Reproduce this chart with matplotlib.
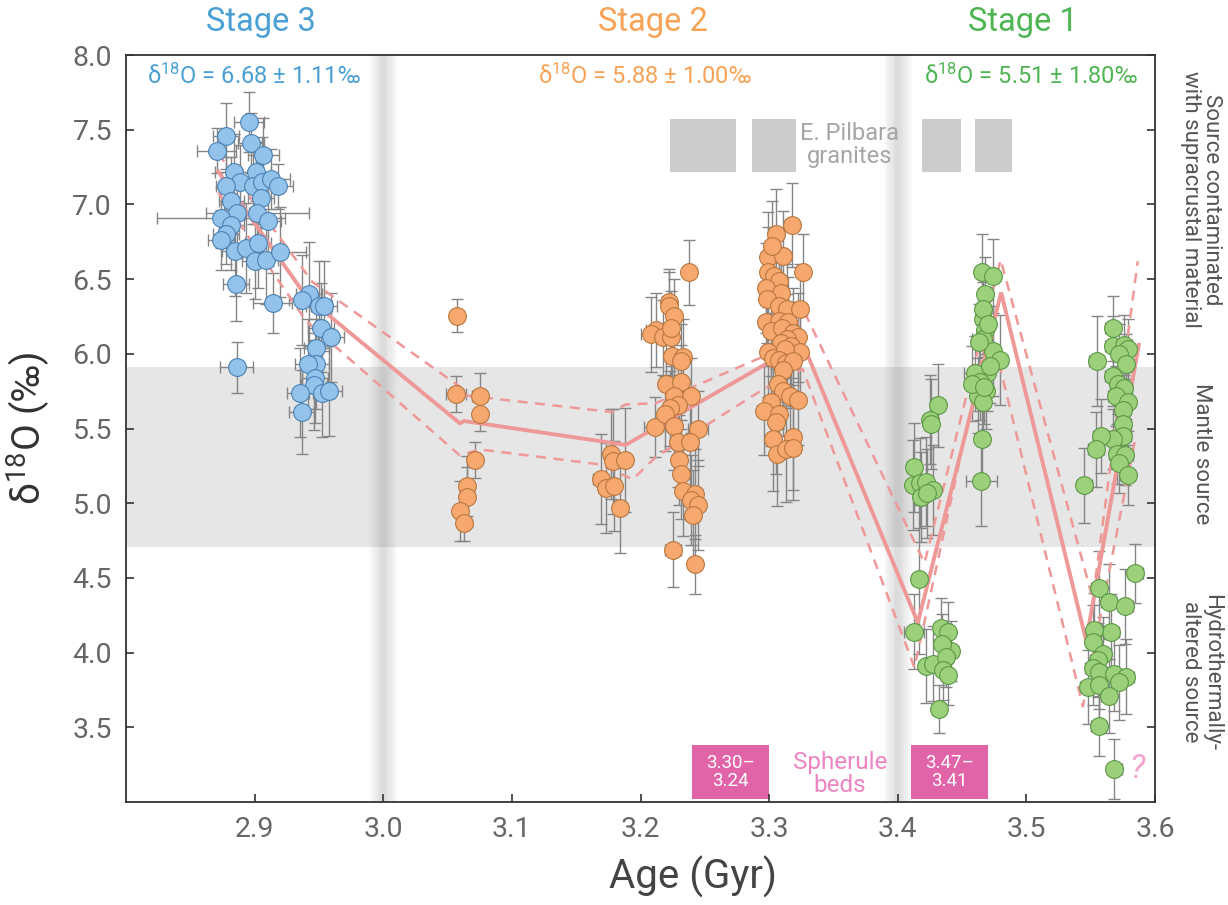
import matplotlib
matplotlib.use('Agg')
import matplotlib.pyplot as plt
from matplotlib.patches import Rectangle
from matplotlib.transforms import blended_transform_factory

plt.rcParams['font.family'] = ['Roboto', 'DejaVu Sans']
plt.rcParams['mathtext.fontset'] = 'custom'
plt.rcParams['mathtext.rm'] = 'Roboto'
plt.rcParams['mathtext.it'] = 'Roboto:italic'

# ---------------- data ----------------
blue_x = [2.8956, 2.878, 2.8705, 2.897, 2.9067, 2.884, 2.901, 2.889, 2.878, 2.899,
          2.9054, 2.9124, 2.918, 2.882, 2.9047, 2.886, 2.874, 2.902, 2.882, 2.9106,
          2.8777, 2.874, 2.8847, 2.893, 2.9028, 2.900, 2.9085, 2.9197, 2.8855, 2.914,
          2.9425, 2.9365, 2.950, 2.9538, 2.9518, 2.9595, 2.948, 2.9476, 2.9417, 2.886,
          2.9468, 2.9463, 2.935, 2.952, 2.9577, 2.9365]
blue_y = [7.55, 7.46, 7.36, 7.41, 7.33, 7.22, 7.22, 7.15, 7.12, 7.12,
          7.15, 7.17, 7.12, 7.02, 7.04, 6.94, 6.91, 6.94, 6.86, 6.89,
          6.80, 6.76, 6.69, 6.71, 6.74, 6.62, 6.63, 6.68, 6.47, 6.34,
          6.40, 6.36, 6.32, 6.32, 6.175, 6.11, 6.04, 5.93, 5.93, 5.91,
          5.84, 5.79, 5.74, 5.74, 5.75, 5.61]
blue_xerr = [0.012, 0.010, 0.015, 0.010, 0.012, 0.015, 0.012, 0.015, 0.008, 0.010,
             0.010, 0.015, 0.012, 0.010, 0.010, 0.010, 0.050, 0.040, 0.010, 0.010,
             0.010, 0.010, 0.010, 0.010, 0.010, 0.010, 0.010, 0.020, 0.010, 0.015,
             0.010, 0.010, 0.010, 0.010, 0.010, 0.010, 0.010, 0.010, 0.010, 0.013,
             0.010, 0.010, 0.010, 0.010, 0.010, 0.010]
blue_yerr = [0.20, 0.22, 0.15, 0.20, 0.25, 0.25, 0.20, 0.25, 0.20, 0.25,
             0.30, 0.20, 0.15, 0.30, 0.25, 0.30, 0.20, 0.25, 0.30, 0.30,
             0.20, 0.20, 0.30, 0.30, 0.30, 0.25, 0.30, 0.30, 0.25, 0.20,
             0.35, 0.30, 0.30, 0.30, 0.30, 0.30, 0.30, 0.30, 0.30, 0.17,
             0.30, 0.30, 0.30, 0.30, 0.30, 0.28]

orange_x = [3.0577, 3.0564, 3.075, 3.075, 3.0712, 3.0655, 3.0655, 3.060, 3.063,
            3.1768, 3.1786, 3.1883, 3.169, 3.173, 3.1794, 3.1844,
            3.211, 3.2253, 3.2374, 3.222, 3.222, 3.2258, 3.2124, 3.2085, 3.2175, 3.224,
            3.224, 3.2243, 3.233, 3.2313, 3.220, 3.2313, 3.2258, 3.239, 3.229, 3.223,
            3.2194, 3.2258, 3.2447, 3.229, 3.2388, 3.2297, 3.2318, 3.233, 3.2426, 3.2395,
            3.2447, 3.2407, 3.2426,
            3.2994, 3.3107, 3.3263, 3.2991, 3.3035, 3.308, 3.2978, 3.3089, 3.2983, 3.308,
            3.3138, 3.3242, 3.2973, 3.308, 3.3146, 3.3012, 3.3102, 3.3185, 3.3224, 3.3138,
            3.3095, 3.3173, 3.3242, 3.2991, 3.3031, 3.3121, 3.3076, 3.3133, 3.3185, 3.3107,
            3.3068, 3.3107, 3.3159, 3.3224, 3.3012, 3.2957, 3.308, 3.3054, 3.3031, 3.3185,
            3.3063, 3.3128, 3.3185, 3.3175, 3.3051, 3.302]
orange_y = [6.255, 5.73, 5.72, 5.60, 5.29, 5.115, 5.04, 4.95, 4.865,
            5.33, 5.28, 5.29, 5.16, 5.10, 5.115, 4.966,
            5.51, 4.69, 6.545, 6.35, 6.32, 6.25, 6.16, 6.13, 6.11, 6.11,
            6.17, 5.985, 5.98, 5.95, 5.80, 5.81, 5.72, 5.72, 5.66, 5.635,
            5.60, 5.52, 5.50, 5.41, 5.41, 5.29, 5.195, 5.08, 5.06, 5.02,
            4.99, 4.92, 4.59,
            6.646, 6.655, 6.55, 6.55, 6.52, 6.49, 6.44, 6.41, 6.37, 6.32,
            6.30, 6.30, 6.215, 6.22, 6.215, 6.15, 6.17, 6.14, 6.11, 6.10,
            6.07, 6.05, 6.01, 6.01, 5.975, 6.03, 5.96, 5.94, 5.95, 5.89,
            5.80, 5.75, 5.72, 5.69, 5.68, 5.62, 5.60, 5.545, 5.43, 5.44,
            5.33, 5.36, 5.37, 6.86, 6.80, 6.72]
orange_xerr = [0.004, 0.008, 0.006, 0.004, 0.004, 0.004, 0.004, 0.004, 0.004,
               0.004, 0.004, 0.004, 0.006, 0.004, 0.004, 0.004,
               0.008, 0.006, 0.004, 0.005, 0.005, 0.005, 0.008, 0.008, 0.005, 0.005,
               0.005, 0.005, 0.005, 0.005, 0.005, 0.005, 0.005, 0.005, 0.005, 0.005,
               0.005, 0.005, 0.008, 0.005, 0.005, 0.005, 0.005, 0.005, 0.005, 0.005,
               0.005, 0.005, 0.004,
               0.005, 0.005, 0.005, 0.005, 0.005, 0.005, 0.005, 0.005, 0.005, 0.005,
               0.005, 0.005, 0.005, 0.005, 0.005, 0.005, 0.005, 0.005, 0.005, 0.005,
               0.005, 0.005, 0.005, 0.005, 0.005, 0.005, 0.005, 0.005, 0.005, 0.005,
               0.005, 0.005, 0.005, 0.005, 0.005, 0.005, 0.005, 0.005, 0.005, 0.005,
               0.005, 0.005, 0.005, 0.005, 0.005, 0.005]
orange_yerr = [0.11, 0.12, 0.15, 0.12, 0.12, 0.20, 0.20, 0.20, 0.12,
               0.30, 0.35, 0.35, 0.30, 0.30, 0.30, 0.30,
               0.20, 0.25, 0.22, 0.20, 0.25, 0.25, 0.25, 0.25, 0.25, 0.25,
               0.25, 0.25, 0.25, 0.25, 0.30, 0.25, 0.25, 0.25, 0.30, 0.25,
               0.25, 0.30, 0.25, 0.30, 0.30, 0.30, 0.30, 0.30, 0.30, 0.30,
               0.30, 0.30, 0.20,
               0.30, 0.30, 0.25, 0.30, 0.30, 0.30, 0.30, 0.30, 0.30, 0.30,
               0.30, 0.30, 0.30, 0.30, 0.30, 0.30, 0.30, 0.30, 0.30, 0.30,
               0.30, 0.30, 0.30, 0.30, 0.30, 0.30, 0.30, 0.30, 0.30, 0.30,
               0.30, 0.30, 0.30, 0.30, 0.30, 0.30, 0.30, 0.35, 0.35, 0.35,
               0.35, 0.35, 0.35, 0.28, 0.30, 0.30]

green_x = [3.4312, 3.4247, 3.426, 3.4125, 3.4117, 3.417, 3.422, 3.4273, 3.4183, 3.423,
           3.4164, 3.4125, 3.422, 3.4273, 3.4333, 3.439, 3.4416, 3.4346, 3.4377, 3.435,
           3.439, 3.432,
           3.4656, 3.4739, 3.4675, 3.4661, 3.4682, 3.4661, 3.4739, 3.4796, 3.4692, 3.4597,
           3.4636, 3.4688, 3.4622, 3.4661, 3.4657, 3.4649, 3.466, 3.470, 3.463, 3.472,
           3.458, 3.467,
           3.5671, 3.5547, 3.5671, 3.5762, 3.5788, 3.5723, 3.5775, 3.5671, 3.571, 3.5762,
           3.5698, 3.5788, 3.5749, 3.5754, 3.5754, 3.5671, 3.5581, 3.5542, 3.5702, 3.5770,
           3.5718, 3.5788, 3.5451,
           3.5848, 3.5561, 3.564, 3.5770, 3.5659, 3.5529, 3.5521, 3.5599, 3.5555, 3.5516,
           3.5568, 3.5684, 3.5775, 3.5718, 3.5477, 3.5562, 3.564, 3.5561, 3.5684]
green_y = [5.655, 5.56, 5.53, 5.24, 5.12, 5.135, 5.145, 5.09, 5.04, 5.065,
           4.49, 4.14, 3.91, 3.925, 4.166, 4.14, 4.01, 4.06, 3.97, 3.886,
           3.85, 3.62,
           6.55, 6.52, 6.40, 6.23, 6.16, 6.10, 6.02, 5.96, 5.87, 5.87,
           5.81, 5.75, 5.72, 5.68, 5.43, 5.15, 6.30, 6.20, 6.08, 5.92,
           5.80, 5.78,
           6.17, 5.95, 6.05, 6.06, 6.03, 6.00, 5.93, 5.85, 5.80, 5.77,
           5.72, 5.68, 5.625, 5.53, 5.45, 5.43, 5.45, 5.36, 5.33, 5.32,
           5.27, 5.19, 5.12,
           4.53, 4.43, 4.34, 4.31, 4.14, 4.15, 4.07, 3.99, 3.95, 3.90,
           3.87, 3.86, 3.84, 3.80, 3.77, 3.78, 3.71, 3.51, 3.22]
green_xerr = [0.005, 0.005, 0.005, 0.005, 0.005, 0.005, 0.005, 0.005, 0.005, 0.005,
              0.005, 0.008, 0.005, 0.005, 0.005, 0.005, 0.005, 0.005, 0.005, 0.005,
              0.005, 0.005,
              0.005, 0.005, 0.005, 0.005, 0.005, 0.008, 0.005, 0.005, 0.005, 0.008,
              0.005, 0.005, 0.005, 0.005, 0.005, 0.012, 0.005, 0.005, 0.005, 0.005,
              0.005, 0.005,
              0.006, 0.006, 0.006, 0.006, 0.006, 0.006, 0.006, 0.006, 0.006, 0.006,
              0.006, 0.006, 0.006, 0.006, 0.006, 0.006, 0.006, 0.006, 0.006, 0.006,
              0.006, 0.006, 0.006,
              0.006, 0.006, 0.006, 0.006, 0.006, 0.006, 0.006, 0.006, 0.006, 0.006,
              0.006, 0.006, 0.006, 0.006, 0.006, 0.006, 0.006, 0.006, 0.006]
green_yerr = [0.28, 0.30, 0.30, 0.30, 0.30, 0.30, 0.30, 0.30, 0.30, 0.30,
              0.50, 0.25, 0.25, 0.25, 0.20, 0.20, 0.20, 0.20, 0.20, 0.20,
              0.20, 0.16,
              0.25, 0.25, 0.25, 0.25, 0.25, 0.25, 0.30, 0.30, 0.25, 0.25,
              0.25, 0.25, 0.25, 0.25, 0.25, 0.30, 0.25, 0.25, 0.25, 0.25,
              0.25, 0.25,
              0.22, 0.30, 0.20, 0.20, 0.20, 0.20, 0.20, 0.20, 0.20, 0.20,
              0.20, 0.20, 0.20, 0.20, 0.20, 0.20, 0.25, 0.25, 0.20, 0.20,
              0.20, 0.20, 0.25,
              0.20, 0.25, 0.25, 0.25, 0.25, 0.25, 0.25, 0.25, 0.25, 0.25,
              0.25, 0.25, 0.25, 0.25, 0.25, 0.25, 0.25, 0.20, 0.20]

trend_x = [2.8717, 2.9404, 3.0595, 3.063, 3.1885, 3.2991, 3.3286, 3.4156, 3.4804, 3.5465, 3.5874]
trend_y = [7.22, 6.38, 5.535, 5.55, 5.39, 5.94, 6.02, 4.20, 6.41, 4.08, 6.06]
upper_x = [2.8717, 2.945, 3.0595, 3.065, 3.178, 3.188, 3.212, 3.295, 3.3286, 3.4208, 3.4800, 3.5516, 3.5866]
upper_y = [7.34, 6.48, 5.78, 5.72, 5.61, 5.66, 5.67, 5.98, 6.26, 4.60, 6.63, 4.36, 6.62]
lower_x = [2.8717, 2.94, 3.0595, 3.075, 3.168, 3.194, 3.212, 3.295, 3.326, 3.413, 3.4713, 3.5439, 3.585]
lower_y = [7.08, 6.22, 5.32, 5.36, 5.26, 5.16, 5.31, 5.76, 5.90, 3.90, 6.20, 3.64, 5.45]

mantle_band = (4.71, 5.91)
boundaries = [3.0, 3.4]
granite_ranges = [(3.223, 3.274), (3.287, 3.321), (3.419, 3.449), (3.460, 3.489)]
granite_y = (7.22, 7.57)
spherule_ranges = [(3.24, 3.30), (3.41, 3.47)]
spherule_labels = ['3.30–\n3.24', '3.47–\n3.41']
spherule_y = (3.02, 3.38)

stage_names = ['Stage 3', 'Stage 2', 'Stage 1']
stage_x = [2.905, 3.21, 3.497]
stage_means = ['6.68 ± 1.11‰', '5.88 ± 1.00‰', '5.51 ± 1.80‰']
mean_x = [2.8993, 3.2035, 3.5035]
stage_colors = ['#4aa0d5', '#f7a255', '#4fb553']

# ---------------- figure ----------------
fig = plt.figure(figsize=(12.28, 9.05), dpi=100)
ax = fig.add_axes([126/1228, 1 - 802/905, (1155 - 126)/1228, (802 - 55)/905])
ax.set_xlim(2.8, 3.6)
ax.set_ylim(3.0, 8.0)

ax.axhspan(*mantle_band, color='#e6e6e6', lw=0, zorder=0)
for b in boundaries:
    for w in [0.022, 0.019, 0.016, 0.013, 0.010, 0.008, 0.006, 0.004]:
        ax.axvspan(b - w/2, b + w/2, color='#808080', alpha=0.035, lw=0, zorder=0.5)

for (x0, x1) in granite_ranges:
    ax.add_patch(Rectangle((x0, granite_y[0]), x1 - x0, granite_y[1] - granite_y[0],
                           facecolor='#cccccc', edgecolor='none', zorder=1))
ax.text(3.3625, 7.395, 'E. Pilbara\ngranites', ha='center', va='center', fontsize=17,
        color='#a6a6a6', linespacing=1.0, zorder=2)

for (x0, x1), lab in zip(spherule_ranges, spherule_labels):
    ax.add_patch(Rectangle((x0, spherule_y[0]), x1 - x0, spherule_y[1] - spherule_y[0],
                           facecolor='#e264a8', edgecolor='none', zorder=1))
    ax.text((x0 + x1)/2, sum(spherule_y)/2, lab, ha='center', va='center', fontsize=13.5,
            color='white', linespacing=1.0, zorder=2)
ax.text(3.355, 3.19, 'Spherule\nbeds', ha='center', va='center', fontsize=17.5,
        color='#ee84c2', linespacing=1.0, zorder=2)
ax.text(3.586, 3.22, '?', ha='center', va='center', fontsize=24, color='#f3a5cf',
        style='italic', zorder=2)

ecol = '#858585'
series = [(blue_x, blue_y, blue_xerr, blue_yerr, '#93c2ea', '#4b82b4'),
          (orange_x, orange_y, orange_xerr, orange_yerr, '#f6a86e', '#b8773f'),
          (green_x, green_y, green_xerr, green_yerr, '#9dd07b', '#5b9846')]
for xs, ys, xe, ye, fc, ec in series:
    ax.errorbar(xs, ys, xerr=xe, yerr=ye, fmt='none', ecolor=ecol, elinewidth=1.0,
                capsize=4, capthick=1.0, zorder=2)

lc = '#ee9898'
ax.plot(trend_x, trend_y, color=lc, lw=2.8, zorder=3, solid_joinstyle='miter')
ax.plot(upper_x, upper_y, color=lc, lw=1.8, ls=(0, (4, 3)), zorder=3)
ax.plot(lower_x, lower_y, color=lc, lw=1.8, ls=(0, (4, 3)), zorder=3)

for xs, ys, xe, ye, fc, ec in series:
    ax.plot(xs, ys, 'o', ms=12.8, mfc=fc, mec=ec, mew=0.8, ls='none', zorder=4)

# axes styling
for s in ax.spines.values():
    s.set_color('#333333')
    s.set_linewidth(1.3)
ax.set_xticks([2.9, 3.0, 3.1, 3.2, 3.3, 3.4, 3.5, 3.6])
ax.set_xticklabels(['2.9', '3.0', '3.1', '3.2', '3.3', '3.4', '3.5', '3.6'])
ax.set_yticks([3.5, 4.0, 4.5, 5.0, 5.5, 6.0, 6.5, 7.0, 7.5, 8.0])
ax.set_yticklabels(['3.5', '4.0', '4.5', '5.0', '5.5', '6.0', '6.5', '7.0', '7.5', '8.0'])
ax.tick_params(axis='both', direction='in', length=6, width=1.2, color='#333333',
               labelsize=20.5, labelcolor='#666666')
ax.tick_params(axis='y', right=True, pad=10)
ax.tick_params(axis='x', pad=10)
ax.set_xlabel('Age (Gyr)', fontsize=29, color='#444444')
ax.xaxis.set_label_coords(0.551, -0.072)
ax.set_ylabel('δ$^{\\mathrm{18}}$O (‰)', fontsize=28, color='#333333', labelpad=14)

# stage titles and means
btr = blended_transform_factory(ax.transData, ax.transAxes)
for name, sx, col in zip(stage_names, stage_x, stage_colors):
    ax.text(sx, 1.0 + 33/747, name, transform=btr,
            ha='center', va='center', fontsize=23.5, color=col)
for mx, mean, col in zip(mean_x, stage_means, stage_colors):
    ax.text(mx, 7.86, 'δ$^{\\mathrm{18}}$O = ' + mean,
            ha='center', va='center', fontsize=17, color=col)

# right-side source labels
tr = blended_transform_factory(ax.transAxes, ax.transData)
ax.text(1.045, 7.03, 'Source contaminated\nwith supracrustal material', transform=tr,
        rotation=-90, ha='center', va='center', fontsize=16, color='#555555', linespacing=1.0)
ax.text(1.045, 5.33, 'Mantle source', transform=tr,
        rotation=-90, ha='center', va='center', fontsize=16, color='#555555')
ax.text(1.045, 3.87, 'Hydrothermally-\naltered source', transform=tr,
        rotation=-90, ha='center', va='center', fontsize=16, color='#555555', linespacing=1.0)

fig.savefig('out.png', dpi=100)
